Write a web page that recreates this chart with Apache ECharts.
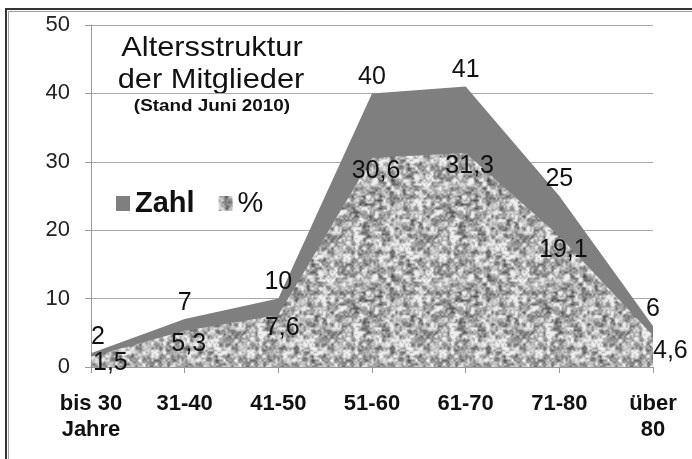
<!DOCTYPE html>
<html>
<head>
<meta charset="utf-8">
<script src="https://cdn.jsdelivr.net/npm/echarts@6/dist/echarts.min.js"></script>
<style>
html,body{margin:0;padding:0;background:#fff;}
#chart{width:692px;height:459px;}
</style>
</head>
<body>
<div id="chart"></div>
<script>
const categories = ['bis 30\nJahre', '31-40', '41-50', '51-60', '61-70', '71-80', 'über\n80'];
const zahlValues = [2, 7, 10, 40, 41, 25, 6];
const prozentValues = [1.5, 5.3, 7.6, 30.6, 31.3, 19.1, 4.6];
const yMin = 0, yMax = 50, yInterval = 10;
const titleLines = ['Altersstruktur', 'der Mitglieder'];
const subtitle = '(Stand Juni 2010)';
const seriesNames = ['Zahl', '%'];

function makeTexture() {
  const N = 96;
  const c = document.createElement('canvas');
  c.width = N; c.height = N;
  const ctx = c.getContext('2d');
  const img = ctx.createImageData(N, N);
  function hash(i, j, s) {
    const v = Math.sin(i * 127.1 + j * 311.7 + s * 74.7) * 43758.5453;
    return v - Math.floor(v);
  }
  function noise(x, y, cell, s) {
    const n = N / cell;
    const gx = x / cell, gy = y / cell;
    const i0 = Math.floor(gx), j0 = Math.floor(gy);
    const fx = gx - i0, fy = gy - j0;
    const sx = fx * fx * (3 - 2 * fx), sy = fy * fy * (3 - 2 * fy);
    const a = hash(i0 % n, j0 % n, s), b = hash((i0 + 1) % n, j0 % n, s);
    const c2 = hash(i0 % n, (j0 + 1) % n, s), d = hash((i0 + 1) % n, (j0 + 1) % n, s);
    return a + (b - a) * sx + (c2 - a) * sy + (a - b - c2 + d) * sx * sy;
  }
  for (let y = 0; y < N; y++) {
    for (let x = 0; x < N; x++) {
      const v = 0.6 * noise(x, y, 4, 1) + 0.4 * noise(x, y, 2, 2);
      let g = 178 + (v - 0.5) * 230;
      g = Math.max(60, Math.min(238, g));
      const k = (y * N + x) * 4;
      img.data[k] = g; img.data[k + 1] = g; img.data[k + 2] = g; img.data[k + 3] = 255;
    }
  }
  ctx.putImageData(img, 0, 0);
  return c;
}
const texture = makeTexture();
const texturePattern = { image: texture, repeat: 'repeat' };
const zahlColor = '#7f7f7f';

const chart = echarts.init(document.getElementById('chart'), null, { renderer: 'canvas' });

const lastIdx = categories.length - 1;
const zahlData = zahlValues.map((v, i) => {
  if (i === 0) return { value: v, label: { align: 'left', offset: [0, 0] } };
  return { value: v };
});
const prozentData = prozentValues.map((v, i) => {
  let label;
  if (i === 0) label = { align: 'left', offset: [2, -6] };
  else if (i === lastIdx) label = { align: 'left', offset: [0, 3] };
  else label = { offset: [4, 1] };
  return { value: v, label: label };
});

const option = {
  backgroundColor: '#ffffff',
  animation: false,
  grid: { left: 91, right: 39, top: 25, bottom: 92, containLabel: false },
  legend: {
    left: 111,
    top: 184,
    icon: 'rect',
    itemWidth: 14,
    itemHeight: 15,
    itemGap: 24,
    textStyle: { fontFamily: 'Liberation Sans', fontWeight: 'bold', fontSize: 29, color: '#111' },
    data: [
      { name: seriesNames[0], itemStyle: { color: zahlColor } },
      { name: seriesNames[1], itemStyle: { color: texturePattern }, textStyle: { fontWeight: 'normal' } }
    ]
  },
  xAxis: {
    type: 'category',
    data: categories,
    boundaryGap: false,
    axisLine: { lineStyle: { color: '#9a9a9a', width: 1 } },
    axisTick: { show: true, length: 6, alignWithLabel: true, lineStyle: { color: '#9a9a9a' } },
    axisLabel: {
      margin: 24,
      fontFamily: 'Liberation Sans',
      fontWeight: 'bold',
      fontSize: 22,
      lineHeight: 26,
      color: '#111',
      interval: 0
    },
    splitLine: { show: false }
  },
  yAxis: {
    type: 'value',
    min: yMin,
    max: yMax,
    interval: yInterval,
    axisLine: { show: true, lineStyle: { color: '#9a9a9a', width: 1 } },
    axisTick: { show: true, length: 6, lineStyle: { color: '#9a9a9a' } },
    axisLabel: { margin: 21, fontFamily: 'Liberation Sans', fontSize: 22, color: '#222' },
    splitLine: { show: true, lineStyle: { color: '#a8a8a8', width: 1 } }
  },
  graphic: [
    { type: 'rect', silent: true, shape: { x: 6, y: 9, width: 720, height: 480 }, style: { fill: 'none', stroke: '#333', lineWidth: 2 } },
    { type: 'rect', silent: true, shape: { x: 8.5, y: 11.5, width: 720, height: 480 }, style: { fill: 'none', stroke: '#a0a0a0', lineWidth: 1 } },
    { type: 'text', silent: true, x: 212, y: 48, scaleX: 1.1, style: { text: titleLines[0], font: '28px "Liberation Sans"', fill: '#111', textAlign: 'center', textVerticalAlign: 'middle' } },
    { type: 'text', silent: true, x: 211, y: 80, scaleX: 1.1, style: { text: titleLines[1], font: '28px "Liberation Sans"', fill: '#111', textAlign: 'center', textVerticalAlign: 'middle' } },
    { type: 'text', silent: true, x: 212, y: 107, scaleX: 1.18, style: { text: subtitle, font: 'bold 16px "Liberation Sans"', fill: '#111', textAlign: 'center', textVerticalAlign: 'middle' } }
  ],
  series: [
    {
      name: seriesNames[0],
      type: 'line',
      data: zahlData,
      symbol: 'circle',
      symbolSize: 0.01,
      showSymbol: true,
      lineStyle: { width: 0, color: zahlColor },
      itemStyle: { color: zahlColor },
      areaStyle: { color: zahlColor, opacity: 1 },
      label: {
        show: true,
        position: 'top',
        distance: 4,
        fontFamily: 'Liberation Sans',
        fontSize: 25,
        color: '#111'
      },
      z: 2
    },
    {
      name: seriesNames[1],
      type: 'line',
      data: prozentData,
      symbol: 'circle',
      symbolSize: 0.01,
      showSymbol: true,
      lineStyle: { width: 0, color: '#aaa' },
      itemStyle: { color: texturePattern },
      areaStyle: { color: texturePattern, opacity: 1 },
      label: {
        show: true,
        position: 'bottom',
        distance: 0,
        fontFamily: 'Liberation Sans',
        fontSize: 25,
        color: '#111',
        formatter: p => String(p.value).replace('.', ',')
      },
      z: 3
    }
  ]
};
chart.setOption(option);
</script>
</body>
</html>
